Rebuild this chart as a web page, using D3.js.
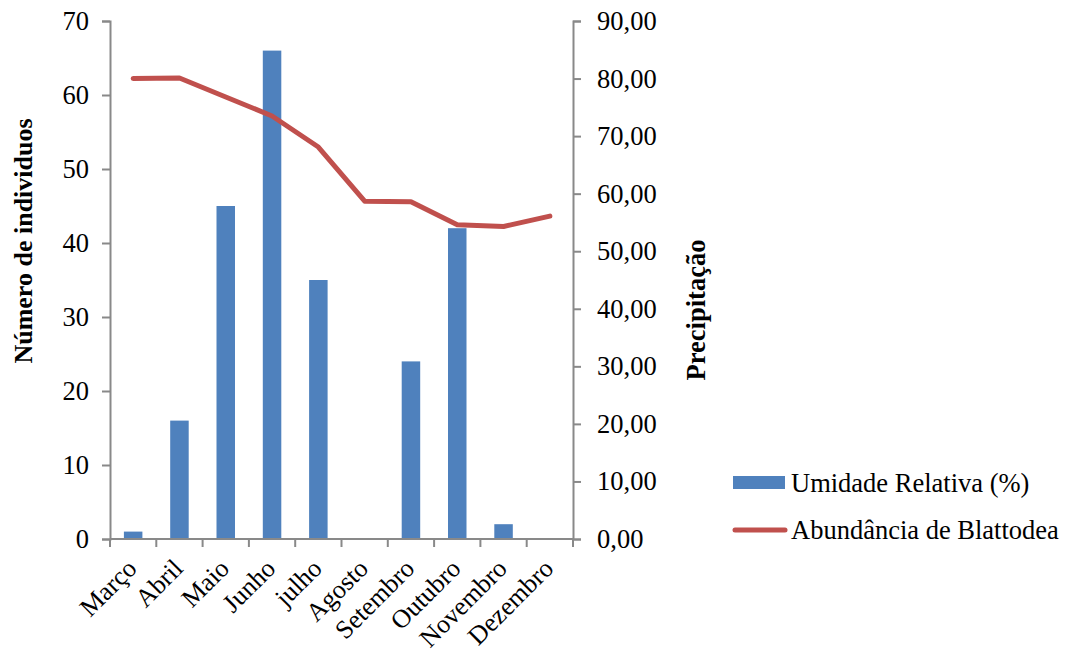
<!DOCTYPE html>
<html>
<head>
<meta charset="utf-8">
<script src="https://cdn.jsdelivr.net/npm/d3@7"></script>
<style>
  html, body { margin: 0; padding: 0; background: #fff; }
  svg text { font-family: "Liberation Serif", "Times New Roman", Times, serif; }
</style>
</head>
<body>
<svg id="chart" width="1069" height="652"></svg>
<script>
// Monthly data
const months = ["Março", "Abril", "Maio", "Junho", "julho", "Agosto", "Setembro", "Outubro", "Novembro", "Dezembro"];
const umidade = [1, 16, 45, 66, 35, 0, 24, 42, 2, 0];
const abundancia = [80.0, 80.1, 76.8, 73.5, 68.1, 58.7, 58.6, 54.6, 54.3, 56.1];
const leftTicks = [0, 10, 20, 30, 40, 50, 60, 70];
const rightTicks = [0, 10, 20, 30, 40, 50, 60, 70, 80, 90];

const serif = '"Liberation Serif", "Times New Roman", Times, serif';
const svg = d3.select("#chart");
const plot = { left: 110, right: 573, top: 21, bottom: 539 };
const axisColor = "#898989";
const fontSize = 26.5;

const xBand = d3.scaleBand().domain(months).range([plot.left, plot.right]);
const yL = d3.scaleLinear().domain([0, 70]).range([plot.bottom, plot.top]);
const yR = d3.scaleLinear().domain([0, 90]).range([plot.bottom, plot.top]);

// Bars
svg.append("g").selectAll("rect")
  .data(months)
  .join("rect")
  .attr("x", d => xBand(d) + xBand.bandwidth() / 2 - 9.25)
  .attr("width", 18.5)
  .attr("y", (d, i) => yL(umidade[i]))
  .attr("height", (d, i) => yL(0) - yL(umidade[i]))
  .attr("fill", "#4F81BD");

// Left axis
const gL = svg.append("g")
  .attr("transform", `translate(${plot.left},0)`)
  .call(d3.axisLeft(yL).tickValues(leftTicks).tickSize(8).tickPadding(13));

// Right axis
const comma = v => d3.format(".2f")(v).replace(".", ",");
const gR = svg.append("g")
  .attr("transform", `translate(${plot.right},0)`)
  .call(d3.axisRight(yR).tickValues(rightTicks).tickSize(8).tickPadding(16).tickFormat(comma));

// Bottom axis with ticks between categories
const gB = svg.append("g")
  .attr("transform", `translate(0,${plot.bottom})`)
  .call(d3.axisBottom(xBand).tickSize(0).tickFormat(""));
gB.selectAll(".sep")
  .data(d3.range(months.length + 1))
  .join("line")
  .attr("class", "sep")
  .attr("x1", i => plot.left + i * xBand.bandwidth())
  .attr("x2", i => plot.left + i * xBand.bandwidth())
  .attr("y1", 0).attr("y2", 8)
  .attr("stroke", axisColor).attr("stroke-width", 2);

[gL, gR, gB].forEach(g => {
  g.attr("font-family", serif);
  g.select(".domain").attr("stroke", axisColor).attr("stroke-width", 2);
  g.selectAll(".tick line").attr("stroke", axisColor).attr("stroke-width", 2);
  g.selectAll("text").attr("font-size", fontSize).attr("fill", "#000");
});
gB.select(".domain").attr("d", `M${plot.left},0H${plot.right}`);

// Rotated month labels
svg.append("g").selectAll("text")
  .data(months)
  .join("text")
  .attr("transform", d => `translate(${xBand(d) + xBand.bandwidth() / 2 + 5},${plot.bottom + 31}) rotate(-45)`)
  .attr("text-anchor", "end")
  .attr("font-family", serif)
  .attr("font-size", 26)
  .text(d => d);

// Line series
const line = d3.line()
  .x((d, i) => xBand(months[i]) + xBand.bandwidth() / 2)
  .y(d => yR(d));
svg.append("path")
  .datum(abundancia)
  .attr("d", line)
  .attr("fill", "none")
  .attr("stroke", "#C0504D")
  .attr("stroke-width", 5)
  .attr("stroke-linecap", "round")
  .attr("stroke-linejoin", "round");

// Axis titles
svg.append("text")
  .attr("transform", "translate(32,241) rotate(-90)")
  .attr("text-anchor", "middle")
  .attr("font-family", serif)
  .attr("font-size", 26)
  .attr("font-weight", "bold")
  .text("Número de individuos");
svg.append("text")
  .attr("transform", "translate(705,310) rotate(-90)")
  .attr("text-anchor", "middle")
  .attr("font-family", serif)
  .attr("font-size", 26.5)
  .attr("font-weight", "bold")
  .text("Precipitação");

// Legend
const legend = svg.append("g").attr("font-family", serif);
legend.append("rect")
  .attr("x", 733).attr("y", 476).attr("width", 52).attr("height", 13)
  .attr("fill", "#4F81BD");
legend.append("text")
  .attr("x", 791).attr("y", 492)
  .attr("font-size", 26.5)
  .text("Umidade Relativa (%)");
legend.append("line")
  .attr("x1", 735).attr("x2", 785).attr("y1", 530).attr("y2", 530)
  .attr("stroke", "#C0504D").attr("stroke-width", 5).attr("stroke-linecap", "round");
legend.append("text")
  .attr("x", 791).attr("y", 539)
  .attr("font-size", 26.5)
  .text("Abundância de Blattodea");
</script>
</body>
</html>
